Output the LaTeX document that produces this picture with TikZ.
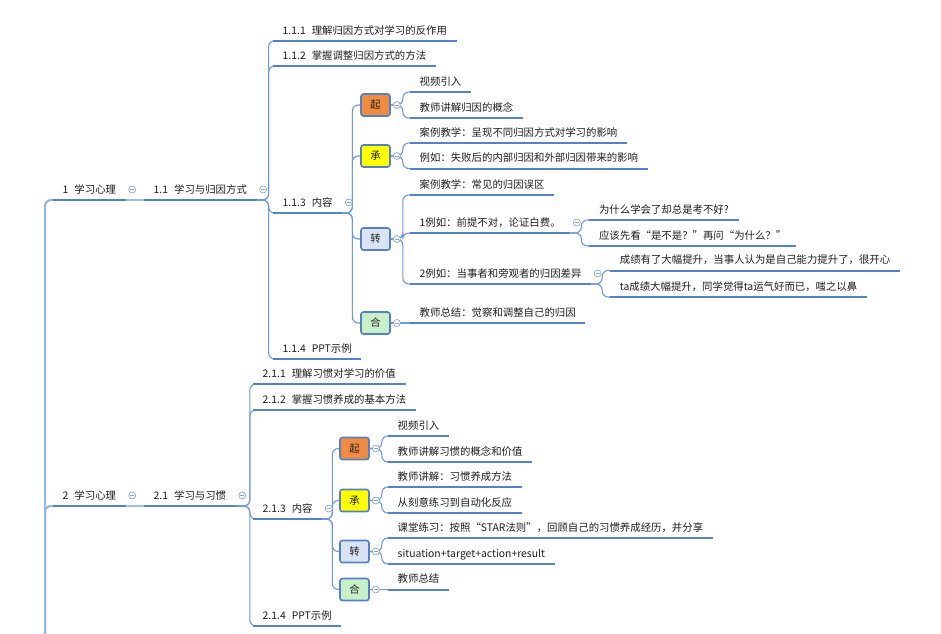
\documentclass[tikz,border=0pt]{standalone}
\usepackage{fontspec}
\newfontfamily\cjkfont{Noto Sans CJK SC}
\usetikzlibrary{calc}
\definecolor{ulc}{RGB}{84,130,200}
\definecolor{connc}{RGB}{112,152,215}
\definecolor{mainc}{RGB}{150,180,230}
\definecolor{linkc}{RGB}{160,188,232}
\definecolor{boxc}{RGB}{85,128,195}
\definecolor{foldc}{RGB}{140,165,205}
\definecolor{txt}{RGB}{30,30,30}
\definecolor{qifill}{RGB}{240,140,65}
\definecolor{chengfill}{RGB}{255,255,0}
\definecolor{zhuanfill}{RGB}{218,227,243}
\definecolor{hefill}{RGB}{200,240,200}
\newcommand{\tg}{\hspace{6pt}}
\begin{document}
\begin{tikzpicture}[x=1pt,y=-1pt,
  topic/.style={anchor=south west, inner xsep=9.5pt, inner ysep=4pt, text height=8pt, text depth=2.5pt,
    font=\cjkfont\fontsize{10.4}{12}\selectfont, text=txt},
  uline/.style={draw=ulc, line width=2pt},
  conn/.style={draw=connc, line width=1.1pt, rounded corners=6pt},
  mainl/.style={draw=mainc, line width=2pt, rounded corners=6pt},
  link/.style={draw=linkc, line width=1.6pt},
  box/.style={draw=boxc, line width=1.6pt, rounded corners=2.5pt, minimum width=29pt, minimum height=22pt,
    inner sep=0pt, font=\cjkfont\fontsize{10.4}{12}\selectfont, text=txt},
  fold/.style={circle, draw=foldc, fill=white, line width=0.7pt, minimum size=7pt, inner sep=0pt,
    path picture={\draw[foldc, line width=0.6pt] ([xshift=-2pt]path picture bounding box.center) -- ([xshift=2pt]path picture bounding box.center);}},
]
\fill[white] (0,0) rectangle (941,633);
\useasboundingbox (0,0) rectangle (941,633);

% ---------- part 1 ----------
\node[topic] (A1) at (53,200) {1\tg 学习心理};
\node[topic] (B1) at (144,200) {1.1\tg 学习与归因方式};
\node[topic] (C1) at (273,40.7) {1.1.1\tg 理解归因方式对学习的反作用};
\node[topic] (C2) at (273,66) {1.1.2\tg 掌握调整归因方式的方法};
\node[topic] (C3) at (273,213) {1.1.3\tg 内容};
\node[topic] (C4) at (273,359) {1.1.4\tg PPT示例};
\node[box, fill=qifill] (D1) at (375.5,105) {起};
\node[box, fill=chengfill] (D2) at (375.5,156) {承};
\node[box, fill=zhuanfill] (D3) at (375.5,239) {转};
\node[box, fill=hefill] (D4) at (375.5,323) {合};
\node[topic] (E1) at (410,92) {视频引入};
\node[topic] (E2) at (410,118) {教师讲解归因的概念};
\node[topic] (E3) at (410,143) {案例教学：呈现不同归因方式对学习的影响};
\node[topic] (E4) at (410,168.5) {例如：失败后的内部归因和外部归因带来的影响};
\node[topic] (E5) at (410,195) {案例教学：常见的归因误区};
\node[topic] (E6) at (410,233) {1例如：前提不对，论证白费。};
\node[topic] (E7) at (410,284) {2例如：当事者和旁观者的归因差异};
\node[topic] (E8) at (410,323) {教师总结：觉察和调整自己的归因};
\node[topic] (F1) at ($(E6.south east |- 0,220)+(19,0)$) {为什么学会了却总是考不好?};
\node[topic] (F2) at ($(E6.south east |- 0,246)+(19,0)$) {应该先看“是不是？”再问“为什么？”};
\node[topic] (F3) at ($(E7.south east |- 0,270.5)+(19,0)$) {成绩有了大幅提升，当事人认为是自己能力提升了，很开心};
\node[topic] (F4) at ($(E7.south east |- 0,297)+(19,0)$) {ta成绩大幅提升，同学觉得ta运气好而已，嗤之以鼻};

% ---------- part 2 ----------
\node[topic] (A2) at (53,506) {2\tg 学习心理};
\node[topic] (B2) at (144,506) {2.1\tg 学习与习惯};
\node[topic] (G1) at (253,384) {2.1.1\tg 理解习惯对学习的价值};
\node[topic] (G2) at (253,410) {2.1.2\tg 掌握习惯养成的基本方法};
\node[topic] (G3) at (253,519) {2.1.3\tg 内容};
\node[topic] (G4) at (253,626) {2.1.4\tg PPT示例};
\node[box, fill=qifill] (H1) at (354.5,448.5) {起};
\node[box, fill=chengfill] (H2) at (354.5,500.5) {承};
\node[box, fill=zhuanfill] (H3) at (354.5,551.5) {转};
\node[box, fill=hefill] (H4) at (354.5,589.5) {合};
\node[topic] (I1) at (388,436) {视频引入};
\node[topic] (I2) at (388,462) {教师讲解习惯的概念和价值};
\node[topic] (I3) at (388,487) {教师讲解：习惯养成方法};
\node[topic] (I4) at (388,513) {从刻意练习到自动化反应};
\node[topic] (I5) at (388,538) {课堂练习：按照“STAR法则”，回顾自己的习惯养成经历，并分享};
\node[topic] (I6) at (388,564) {situation+target+action+result};
\node[topic] (I7) at (388,589.5) {教师总结};

% ---------- connectors ----------
\coordinate (rootend) at (45,640);
\draw[mainl] (rootend) |- (A1.south west);
\draw[mainl] (rootend) |- (A2.south west);
\draw[link] (A1.south east) -- (B1.south west);
\draw[link] (A2.south east) -- (B2.south west);

\foreach \c in {C1,C2,C3,C4}
  \draw[conn] (B1.south east) -- ([xshift=12pt]B1.south east) |- (\c.south west);
\foreach \d in {D1,D2,D3,D4}
  \draw[conn] (C3.south east) -- ([xshift=10pt]C3.south east) |- (\d.west);
\foreach \p/\c in {D1/E1,D1/E2,D2/E3,D2/E4,D3/E5,D3/E6,D3/E7}
  \draw[conn] (\p.east) -- ([xshift=12pt]\p.east) |- (\c.south west);
\draw[conn] (D4.east) -- (E8.south west);
\foreach \p/\c in {E6/F1,E6/F2,E7/F3,E7/F4}
  \draw[conn] (\p.south east) -- ([xshift=11pt]\p.south east) |- (\c.south west);

\foreach \c in {G1,G2,G3,G4}
  \draw[conn] (B2.south east) -- ([xshift=14pt]B2.south east) |- (\c.south west);
\foreach \d in {H1,H2,H3,H4}
  \draw[conn] (G3.south east) -- ([xshift=10pt]G3.south east) |- (\d.west);
\foreach \p/\c in {H1/I1,H1/I2,H2/I3,H2/I4,H3/I5,H3/I6}
  \draw[conn] (\p.east) -- ([xshift=12pt]\p.east) |- (\c.south west);
\draw[conn] (H4.east) -- (I7.south west);

% ---------- underlines ----------
\foreach \n in {A1,B1,C1,C2,C3,C4,E1,E2,E3,E4,E5,E6,E7,E8,F1,F2,F3,F4,
                A2,B2,G1,G2,G3,G4,I1,I2,I3,I4,I5,I6,I7}
  \draw[uline] (\n.south west) -- (\n.south east);

% ---------- fold markers ----------
\foreach \n in {A1,B1,C3,E6,E7,A2,B2,G3}
  \node[fold] (fold\n) at ([xshift=6.5pt,yshift=10.5pt]\n.south east) {};
\foreach \n in {D1,D2,D3,D4,H1,H2,H3,H4}
  \node[fold] (fold\n) at ([xshift=6pt]\n.east) {};
\end{tikzpicture}
\end{document}
